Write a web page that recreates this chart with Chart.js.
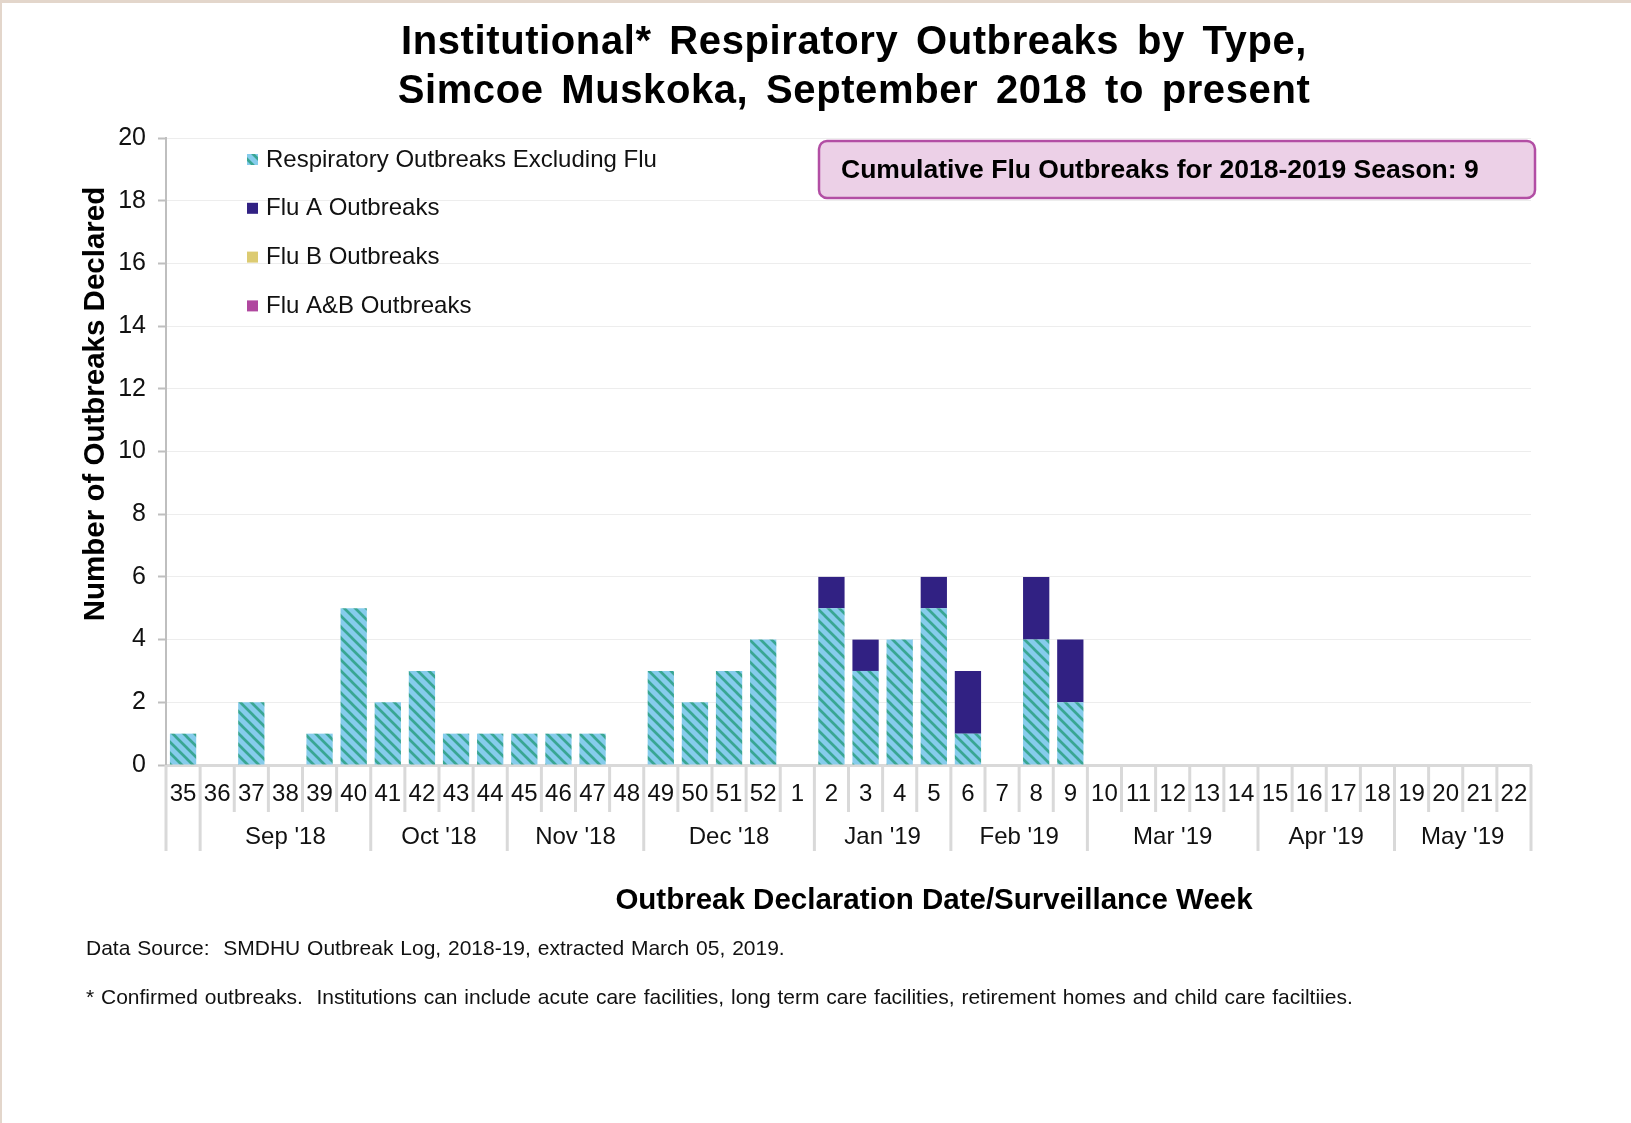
<!DOCTYPE html>
<html>
<head>
<meta charset="utf-8">
<script src="https://cdn.jsdelivr.net/npm/chart.js@4.4.1/dist/chart.umd.min.js"></script>
<style>
    html, body { margin: 0; padding: 0; background: #e3d6cb; }
    #wrap { width: 1631px; height: 1123px; position: relative; }
</style>
</head>
<body>
<div id="wrap"><canvas id="outbreakChart" width="1631" height="1123"></canvas></div>
<script>
(function() {
    'use strict';

    // surveillance weeks, Sep 2018 -> May 2019
    const weeks = ['35', '36', '37', '38', '39', '40', '41', '42', '43', '44', '45', '46', '47', '48', '49', '50', '51', '52',
        '1', '2', '3', '4', '5', '6', '7', '8', '9', '10', '11', '12', '13', '14', '15', '16', '17', '18', '19', '20', '21', '22'];

    const respNonFlu = [1, 0, 2, 0, 1, 5, 2, 3, 1, 1, 1, 1, 1, 0, 3, 2, 3, 4,
        0, 5, 3, 4, 5, 1, 0, 4, 2, 0, 0, 0, 0, 0, 0, 0, 0, 0, 0, 0, 0, 0];
    const fluA = [0, 0, 0, 0, 0, 0, 0, 0, 0, 0, 0, 0, 0, 0, 0, 0, 0, 0,
        0, 1, 1, 0, 1, 2, 0, 2, 2, 0, 0, 0, 0, 0, 0, 0, 0, 0, 0, 0, 0, 0];
    const fluB = [0, 0, 0, 0, 0, 0, 0, 0, 0, 0, 0, 0, 0, 0, 0, 0, 0, 0,
        0, 0, 0, 0, 0, 0, 0, 0, 0, 0, 0, 0, 0, 0, 0, 0, 0, 0, 0, 0, 0, 0];
    const fluAB = [0, 0, 0, 0, 0, 0, 0, 0, 0, 0, 0, 0, 0, 0, 0, 0, 0, 0,
        0, 0, 0, 0, 0, 0, 0, 0, 0, 0, 0, 0, 0, 0, 0, 0, 0, 0, 0, 0, 0, 0];

    const months = ['', "Sep '18", "Oct '18", "Nov '18", "Dec '18", "Jan '19", "Feb '19", "Mar '19", "Apr '19", "May '19"];
    const monthWeekCounts = [1, 5, 4, 4, 5, 4, 4, 5, 4, 4];

    const seriesNames = ['Respiratory Outbreaks Excluding Flu', 'Flu A Outbreaks', 'Flu B Outbreaks', 'Flu A&B Outbreaks'];
    const cumulativeFlu = 9;

    const FONT = '"Liberation Sans", Arial, sans-serif';
    const TEXT = '#111111';

    function stripePattern() {
        const size = 11;
        const c = document.createElement('canvas');
        c.width = size;
        c.height = size;
        const g = c.getContext('2d');
        g.fillStyle = '#86ccec';
        g.fillRect(0, 0, size, size);
        g.strokeStyle = '#39a693';
        g.lineWidth = 2.7;
        g.beginPath();
        for (let k = -1; k <= 1; k++) {
            g.moveTo(k * size - 1, -1);
            g.lineTo(k * size + size + 1, size + 1);
        }
        g.stroke();
        return g.createPattern(c, 'repeat');
    }

    const decor = {
        id: 'decor',
        beforeDraw(chart) {
            const ctx = chart.ctx;
            ctx.save();
            ctx.fillStyle = '#e3d6cb';
            ctx.fillRect(0, 0, chart.width, chart.height);
            ctx.fillStyle = '#ffffff';
            ctx.fillRect(2, 3, chart.width - 2, chart.height - 3);
            ctx.restore();
        },
        afterDraw(chart) {
            const ctx = chart.ctx;
            const x = chart.scales.x;
            const area = chart.chartArea;
            ctx.save();

            // week / month separators under the axis
            ctx.strokeStyle = '#d9d9d9';
            ctx.lineWidth = 3;
            const bounds = [];
            for (let i = 0; i <= weeks.length; i++) {
                let px;
                if (i === 0) px = area.left;
                else if (i === weeks.length) px = area.right;
                else px = (x.getPixelForValue(i - 1) + x.getPixelForValue(i)) / 2;
                bounds.push(px);
            }
            const monthEdges = new Set([0]);
            let acc = 0;
            monthWeekCounts.forEach(n => { acc += n; monthEdges.add(acc); });
            bounds.forEach((px, i) => {
                ctx.beginPath();
                ctx.moveTo(px, area.bottom);
                ctx.lineTo(px, monthEdges.has(i) ? 851 : 812);
                ctx.stroke();
            });

            // month labels
            ctx.fillStyle = TEXT;
            ctx.font = '24px ' + FONT;
            ctx.textAlign = 'center';
            ctx.textBaseline = 'middle';
            acc = 0;
            months.forEach((m, i) => {
                const a = bounds[acc];
                acc += monthWeekCounts[i];
                const b = bounds[acc];
                if (m) ctx.fillText(m, (a + b) / 2, 837);
            });

            // legend in the top-left of the plot
            ctx.textAlign = 'left';
            chart.data.datasets.forEach((ds, i) => {
                const cy = 159 + i * 48.8;
                ctx.fillStyle = ds.backgroundColor;
                ctx.fillRect(247, cy - 5, 11, 11);
                ctx.fillStyle = TEXT;
                ctx.fillText(ds.label, 266, cy + 1);
            });

            // cumulative flu box
            ctx.beginPath();
            ctx.roundRect(819, 141, 716, 57, 8);
            ctx.fillStyle = '#ecd0e7';
            ctx.fill();
            ctx.lineWidth = 2.5;
            ctx.strokeStyle = '#b24ea4';
            ctx.stroke();
            ctx.fillStyle = '#000';
            ctx.font = 'bold 26.5px ' + FONT;
            ctx.fillText('Cumulative Flu Outbreaks for 2018-2019 Season: ' + cumulativeFlu, 841, 171);

            // main title
            ctx.textAlign = 'center';
            ctx.font = 'bold 40px ' + FONT;
            ctx.letterSpacing = '0.6px';
            ctx.wordSpacing = '6px';
            ctx.fillText('Institutional* Respiratory Outbreaks by Type,', 854, 43);
            ctx.fillText('Simcoe Muskoka, September 2018 to present', 854, 92);
            ctx.letterSpacing = '0px';
            ctx.wordSpacing = '0px';

            // axis titles
            ctx.font = 'bold 29.5px ' + FONT;
            ctx.fillText('Outbreak Declaration Date/Surveillance Week', 934, 901);
            ctx.save();
            ctx.translate(96, 404);
            ctx.rotate(-Math.PI / 2);
            ctx.fillText('Number of Outbreaks Declared', 0, 0);
            ctx.restore();

            // footnotes
            ctx.textAlign = 'left';
            ctx.fillStyle = TEXT;
            ctx.font = '21px ' + FONT;
            ctx.wordSpacing = '1px';
            ctx.fillText('Data Source:  SMDHU Outbreak Log, 2018-19, extracted March 05, 2019.', 86, 949);
            ctx.fillText('* Confirmed outbreaks.  Institutions can include acute care facilities, long term care facilities, retirement homes and child care faciltiies.', 86, 998);
            ctx.wordSpacing = '0px';

            ctx.restore();
        }
    };

    const ctx = document.getElementById('outbreakChart');
    const stripes = stripePattern();
    const barOpts = { barPercentage: 0.77, categoryPercentage: 1, borderWidth: 0 };

    new Chart(ctx, {
        type: 'bar',
        data: {
            labels: weeks,
            datasets: [
                Object.assign({ label: seriesNames[0], data: respNonFlu, backgroundColor: stripes }, barOpts),
                Object.assign({ label: seriesNames[1], data: fluA, backgroundColor: '#312183' }, barOpts),
                Object.assign({ label: seriesNames[2], data: fluB, backgroundColor: '#dccb72' }, barOpts),
                Object.assign({ label: seriesNames[3], data: fluAB, backgroundColor: '#b0479f' }, barOpts)
            ]
        },
        options: {
            responsive: false,
            animation: false,
            layout: { padding: { left: 0, top: 138, right: 100, bottom: 258 } },
            plugins: {
                legend: { display: false },
                tooltip: { enabled: false },
                title: { display: false }
            },
            scales: {
                x: {
                    stacked: true,
                    grid: { display: false, drawTicks: false },
                    border: { color: '#d9d9d9', width: 3 },
                    ticks: {
                        autoSkip: false,
                        maxRotation: 0,
                        padding: 15,
                        color: TEXT,
                        font: { family: FONT, size: 24 }
                    },
                    afterFit: s => {
                        s.height = 100;
                        s.paddingLeft = 0;
                        s.paddingRight = 0;
                    }
                },
                y: {
                    stacked: true,
                    min: 0,
                    max: 20,
                    grid: { color: '#ededed', lineWidth: 1, tickColor: '#bfbfbf', tickLength: 8, tickWidth: 2 },
                    border: { color: '#bfbfbf', width: 2 },
                    ticks: {
                        stepSize: 2,
                        padding: 12,
                        color: TEXT,
                        font: { family: FONT, size: 25 }
                    },
                    afterFit: s => {
                        s.width = 166;
                        s.paddingTop = 0;
                        s.paddingBottom = 0;
                    }
                }
            }
        },
        plugins: [decor]
    });
})();
</script>
</body>
</html>
